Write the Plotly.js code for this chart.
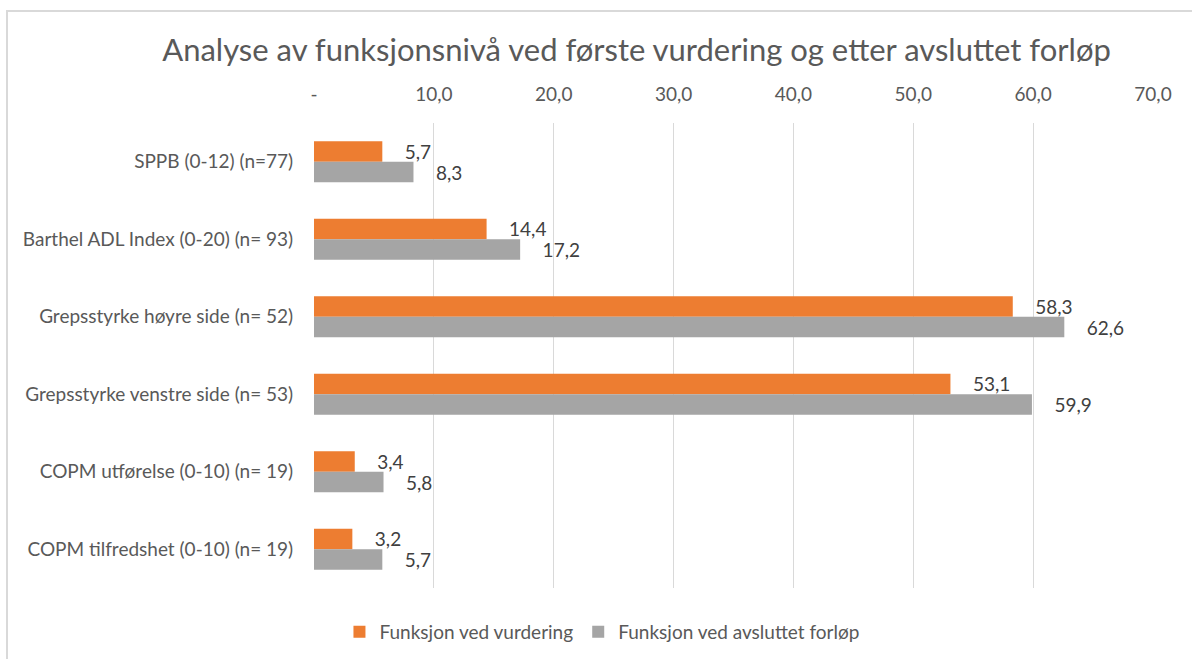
<!DOCTYPE html>
<html>
<head>
<meta charset="utf-8">
<script src="https://cdn.plot.ly/plotly-3.0.1.min.js"></script>
<style>
  html, body { margin: 0; padding: 0; background: #fff; }
  #chart { width: 1192px; height: 659px; }
  #frame { position: absolute; left: 6px; top: 10px; width: 1300px; height: 800px;
           border: 2px solid #d9d9d9; pointer-events: none; box-sizing: border-box; }
</style>
</head>
<body>
<div id="chart"></div>
<div id="frame"></div>
<script>
const categories = [
  "SPPB (0-12) (n=77)",
  "Barthel ADL Index (0-20) (n= 93)",
  "Grepsstyrke høyre side (n= 52)",
  "Grepsstyrke venstre side (n= 53)",
  "COPM utførelse (0-10) (n= 19)",
  "COPM tilfredshet (0-10) (n= 19)"
];
const seriesNames = ["Funksjon ved vurdering", "Funksjon ved avsluttet forløp"];
const vurdering = [5.7, 14.4, 58.3, 53.1, 3.4, 3.2];
const avsluttet = [8.3, 17.2, 62.6, 59.9, 5.8, 5.7];
const tickVals = [0, 10, 20, 30, 40, 50, 60, 70];
const tickText = ["-", "10,0", "20,0", "30,0", "40,0", "50,0", "60,0", "70,0"];

const FONT = "Lato, 'Open Sans', sans-serif";
const pad = "\u00a0\u00a0\u00a0\u00a0";

function barTrace(name, values, color) {
  return {
    type: "bar",
    orientation: "h",
    name: name,
    x: values,
    y: categories,
    marker: { color: color },
    texttemplate: pad + "%{x:.1f}",
    textposition: "outside",
    constraintext: "none",
    cliponaxis: false,
    textfont: { family: FONT, size: 19, color: "#404040" },
    hoverinfo: "skip"
  };
}

const data = [
  barTrace(seriesNames[0], vurdering, "#ED7D31"),
  barTrace(seriesNames[1], avsluttet, "#A5A5A5")
];

const layout = {
  width: 1192,
  height: 659,
  margin: { l: 314, r: 39, t: 123, b: 71 },
  paper_bgcolor: "#ffffff",
  plot_bgcolor: "#ffffff",
  separators: ", ",
  barmode: "group",
  bargap: 0.47,
  bargroupgap: 0,
  font: { family: FONT, color: "#595959" },
  title: {
    text: "Analyse av funksjonsnivå ved første vurdering og etter avsluttet forløp",
    font: { family: FONT, size: 31, color: "#595959" },
    x: 0.534, xanchor: "center", xref: "container",
    y: 0.924, yanchor: "middle", yref: "container"
  },
  xaxis: {
    side: "top",
    range: [0, 70],
    tickvals: tickVals,
    ticktext: tickText,
    showgrid: true,
    gridcolor: "#d9d9d9",
    gridwidth: 1,
    zeroline: false,
    showline: false,
    ticks: "outside",
    ticklen: 13,
    tickcolor: "rgba(0,0,0,0)",
    tickfont: { family: FONT, size: 19, color: "#595959" },
    fixedrange: true
  },
  yaxis: {
    autorange: "reversed",
    showgrid: false,
    zeroline: false,
    showline: false,
    ticks: "outside",
    ticklen: 16,
    tickcolor: "rgba(0,0,0,0)",
    tickfont: { family: FONT, size: 19, color: "#595959" },
    fixedrange: true
  },
  legend: {
    orientation: "h",
    xref: "container", yref: "container",
    x: 0.505, xanchor: "center",
    y: 0.041, yanchor: "middle",
    font: { family: FONT, size: 19, color: "#595959" },
    itemwidth: 30
  },
  showlegend: true
};

Plotly.newPlot("chart", data, layout, { displayModeBar: false, staticPlot: true });
</script>
</body>
</html>
